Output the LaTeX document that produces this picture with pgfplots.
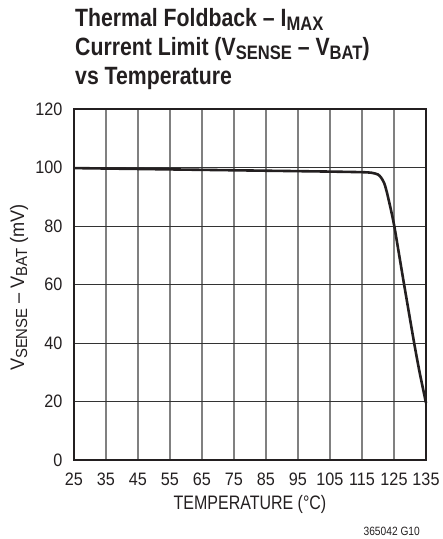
\documentclass[border=0pt]{standalone}
\usepackage{fontspec}
\setmainfont{Liberation Sans}[FakeStretch=0.9]
\newfontfamily\titlefont{Liberation Sans}[FakeStretch=0.85]
\newfontfamily\xlabfont{Liberation Sans}[FakeStretch=0.82]
\newfontfamily\ylabfont{Liberation Sans}[FakeStretch=0.93]
\newfontfamily\footfont{Liberation Sans}[FakeStretch=0.85]
\usepackage{pgfplots}
\pgfplotsset{compat=1.18}
\definecolor{ink}{HTML}{231F20}
\newcommand\sub[1]{\raisebox{-0.3ex}{\fontsize{16}{16}\selectfont #1}}
\newcommand\tsub[1]{\raisebox{-0.3ex}{\fontsize{19.5}{19}\selectfont #1}}
\begin{document}
\begin{tikzpicture}[x=1pt,y=1pt]
\path (-74,-79) rectangle (368,460);
\begin{axis}[
  at={(0,0)}, anchor=south west,
  scale only axis, width=352pt, height=351pt,
  xmin=25, xmax=135, ymin=0, ymax=120,
  xtick={25,35,...,135}, ytick={0,20,...,120},
  major tick length=0pt,
  grid=major,
  x grid style={color=black!50, line width=1.1pt},
  y grid style={color=black!80, line width=0.9pt},
  axis line style={ink, line width=1.2pt},
  /pgf/number format/assume math mode=true,
  ticklabel style={font=\fontsize{18}{20}\selectfont, color=ink},
  xticklabel style={anchor=base, yshift=-25pt},
  yticklabel style={anchor=east, xshift=-8pt},
  xlabel={\xlabfont TEMPERATURE (°C)},
  ylabel={\ylabfont V\sub{SENSE} – V\sub{BAT} (mV)},
  label style={font=\fontsize{19.5}{20}\selectfont, color=ink},
  xlabel style={at={(axis description cs:0.5,0)}, anchor=center, yshift=-44pt},
  ylabel style={at={(axis description cs:0,0.5)}, anchor=center, rotate=0, yshift=55pt, xshift=-3pt},
  clip=false,
]
\addplot[ink, line width=2.6pt, smooth, tension=0.4] coordinates {
(25,99.8) (45,99.5) (65,99.2) (85,98.9) (105,98.6) (115,98.4) (118,98.2) (120,97.6) (121,96.5) (122,94.5) (123,90.5) (125,80.5) (128,61) (131.3,40) (133,30) (135,19.5)
};
\end{axis}
\node[anchor=base west, font=\fontsize{25}{29}\selectfont\bfseries\titlefont, color=ink, inner sep=0] at (1,433) {Thermal Foldback – I\tsub{MAX}};
\node[anchor=base west, font=\fontsize{25}{29}\selectfont\bfseries\titlefont, color=ink, inner sep=0] at (1,404) {Current Limit (V\tsub{SENSE} – V\tsub{BAT})};
\node[anchor=base west, font=\fontsize{25}{29}\selectfont\bfseries\titlefont, color=ink, inner sep=0] at (1,375) {vs Temperature};
\node[anchor=base east, font=\fontsize{12}{14}\selectfont\footfont, color=ink, inner sep=0] at (346,-75) {365042 G10};
\end{tikzpicture}
\end{document}
